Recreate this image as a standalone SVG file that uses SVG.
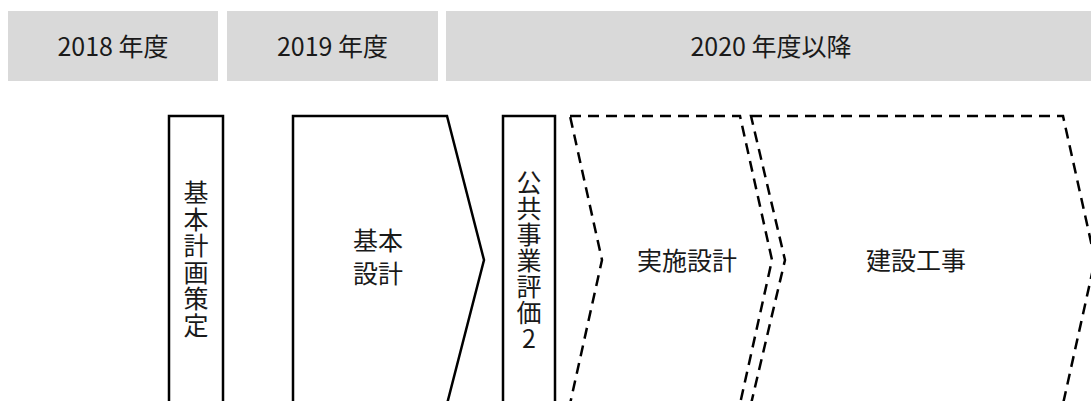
<svg xmlns="http://www.w3.org/2000/svg" width="1091" height="401" viewBox="0 0 1091 401">
<style>
.hdr{fill:#d9d9d9}
.t{font-family:"Noto Sans CJK JP","Noto Sans",sans-serif;font-size:25px;fill:#1a1a1a;text-anchor:middle}
.solid{fill:#fff;stroke:#000;stroke-width:2.5;stroke-linejoin:miter}
.dash{fill:none;stroke:#000;stroke-width:2.5;stroke-dasharray:11 7;stroke-linejoin:miter}
</style>
<rect width="1091" height="401" fill="#fff"/>
<g id="h2018"><rect class="hdr" x="8" y="11" width="210" height="70"/><text class="t" x="113" y="56">2018 年度</text></g>
<g id="h2019"><rect class="hdr" x="227" y="11" width="211" height="70"/><text class="t" x="332.5" y="56">2019 年度</text></g>
<g id="h2020"><rect class="hdr" x="446" y="11" width="650" height="70"/><text class="t" x="771" y="56">2020 年度以降</text></g>
<g id="kihonkeikaku"><rect class="solid" x="169" y="116" width="54" height="300"/>
<text class="t" x="196"><tspan x="196" y="202">基</tspan><tspan x="196" y="228.5">本</tspan><tspan x="196" y="255">計</tspan><tspan x="196" y="281.5">画</tspan><tspan x="196" y="308">策</tspan><tspan x="196" y="334.5">定</tspan></text></g>
<g id="kihonsekkei"><polygon class="solid" points="293,116 447,116 484,260 447,404 293,404"/>
<text class="t"><tspan x="378" y="250">基本</tspan><tspan x="378" y="283">設計</tspan></text></g>
<g id="hyoka2"><rect class="solid" x="503" y="116" width="52" height="300"/>
<text class="t"><tspan x="529" y="192">公</tspan><tspan x="529" y="218">共</tspan><tspan x="529" y="244">事</tspan><tspan x="529" y="270">業</tspan><tspan x="529" y="296">評</tspan><tspan x="529" y="322">価</tspan><tspan x="529" y="348">2</tspan></text></g>
<g id="jisshisekkei"><polygon class="dash" points="570,116 740,116 772,260 740,404 570,404 602,260"/>
<text class="t" x="687" y="270">実施設計</text></g>
<g id="kensetsukoji"><polygon class="dash" points="751,116 1063,116 1095,260 1063,404 751,404 785,260"/>
<text class="t" x="916" y="270">建設工事</text></g>
<g id="connectors"></g>
</svg>
